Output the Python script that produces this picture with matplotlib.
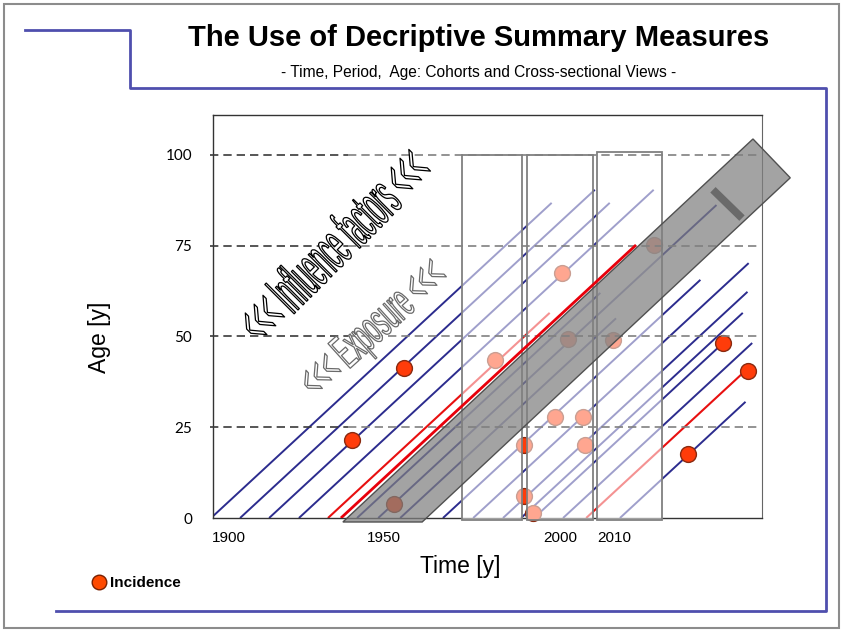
"""Lexis-type diagram: cohorts, periods and ages with incidence points"""
import numpy as np
import matplotlib
matplotlib.use('Agg')
import matplotlib.pyplot as plt
import matplotlib.colors as mcolors
from matplotlib.patches import Rectangle, Polygon
from matplotlib.lines import Line2D
from matplotlib.patheffects import AbstractPathEffect
from matplotlib.transforms import Affine2D

# cohort lines: birth year (age 0) and age where the line stops
blue_birth = [1900.0, 1907.4, 1914.8, 1922.4, 1937.2, 1942.6, 1948.2,
              1959.1, 1966.8, 1974.4, 1979.0, 1982.3, 1989.7, 2004.2]
blue_end = [86.8, 90.4, 86.8, 90.4, 62.0, 86.2, 55.0,
            65.6, 70.2, 62.3, 56.5, 48.2, 48.2, 32.0]
red_birth = [1929.8, 1995.6]
red_end = [56.5, 40.5]
exposed_birth = 1933.1
exposed_end = 75.2

# incidence cases
inc_year = [1935.9, 1949.2, 1946.6, 1972.4, 1989.4, 1991.0, 2002.4, 2012.9, 1987.7,
            1994.8, 1995.3, 1979.8, 1979.8, 1982.1, 2021.6, 2030.5, 2036.8]
inc_age = [21.5, 41.3, 3.9, 43.5, 67.5, 49.3, 49.0, 75.2, 27.8,
           27.8, 20.1, 20.1, 6.1, 1.4, 17.6, 48.2, 40.5]

# cross-sectional period windows
win_start = [1964.0, 1980.5, 1998.4]
win_end = [1979.3, 1997.3, 2014.9]
win_top = [100.0, 100.0, 100.8]

# exposure band (corners) and its marker bar
band_year = [1933.6, 2038.1, 2047.6, 1953.8]
band_age = [-1.1, 104.4, 93.7, -1.1]
bar_year = [2027.9, 2035.3]
bar_age = [90.4, 82.6]

grid_ages = [25, 50, 75, 100]
xtick_pos = [1904.6, 1944.1, 1988.9, 2002.7]
xtick_labels = ['1900', '1950', '2000', '2010']
ytick_pos = [0, 25, 50, 75, 100]

W, H = 844, 632
navy = '#2c2c8e'
dot_face = '#ff3c0a'
dot_edge = '#8a2a10'


class Stretched(AbstractPathEffect):
    """draw text outlined and stretched like word art"""
    def __init__(self, sx, sy, edge, lw, face='white'):
        super().__init__()
        self.sx, self.sy = sx, sy
        self.edge, self.lw = edge, lw
        self.face = mcolors.to_rgb(face)

    def draw_path(self, renderer, gc, tpath, affine, rgbFace=None):
        gc0 = renderer.new_gc()
        gc0.copy_properties(gc)
        gc0.set_foreground(self.edge)
        gc0.set_linewidth(self.lw)
        tr = Affine2D().scale(self.sx, self.sy) + affine
        renderer.draw_path(gc0, tpath, tr, self.face)
        gc0.restore()


def fx(px):
    return px / W


def fy(py):
    return 1 - py / H


fig = plt.figure(figsize=(W / 100, H / 100), dpi=100)
fig.patch.set_facecolor('white')
ax = fig.add_axes([fx(213), fy(518), 549 / W, 403 / H])
ax.set_xlim(1900.5, 2040.4)
ax.set_ylim(0, 111)

# cohort lines
for b, e in zip(blue_birth, blue_end):
    ax.plot([b, b + e], [0, e], color=navy, lw=1.4, zorder=2, solid_capstyle='butt')
for b, e in zip(red_birth, red_end):
    ax.plot([b, b + e], [0, e], color='#e81010', lw=1.5, zorder=2, solid_capstyle='butt')

# incidence
ax.scatter(inc_year, inc_age, s=130, c=dot_face, edgecolors=dot_edge,
           linewidths=1, zorder=3, clip_on=False)

# period windows (translucent white)
for s, e, t in zip(win_start, win_end, win_top):
    ax.add_patch(Rectangle((s, -0.6), e - s, t + 0.6, facecolor=(1, 1, 1, 0.55),
                           edgecolor='#808080', lw=1.3, zorder=4, clip_on=False))

# dashed age lines
for a in grid_ages:
    ax.plot([1899.7, 1935.0], [a, a], color='#3a3a3a', lw=1.2, ls=(0, (5, 3)),
            zorder=4.5, clip_on=False)
    ax.plot([1935.0, 2039.2], [a, a], color='#808080', lw=1.2, ls=(0, (5, 3)),
            zorder=4.5, clip_on=False)

# exposure band
ax.add_patch(Polygon(np.column_stack([band_year, band_age]), closed=True,
                     facecolor=(0.5, 0.5, 0.5, 0.72), edgecolor='#505050', lw=1,
                     zorder=5, clip_on=False))
ax.plot(bar_year, bar_age, color='#6a6a6a', lw=5.5, zorder=5.5,
        solid_capstyle='butt', clip_on=False)
ax.plot([exposed_birth, exposed_birth + exposed_end], [0, exposed_end],
        color='#e8000b', lw=2, zorder=6, solid_capstyle='butt')

# word art labels
ax.text(1913.0, 47.4, '<<< Influence factors <<<', rotation=45, rotation_mode='anchor',
        ha='left', va='baseline', fontsize=14, family='Liberation Sans', color='white',
        zorder=7, path_effects=[Stretched(1.1, 3.1, 'black', 0.9)])
ax.text(1926.8, 32.8, '<<< Exposure <<<', rotation=42, rotation_mode='anchor',
        ha='left', va='baseline', fontsize=12, family='Liberation Sans', color='white',
        zorder=7, path_effects=[Stretched(1.3, 2.9, '#6a6a6a', 0.9)])

# axes styling
for side in ['left', 'top', 'bottom']:
    ax.spines[side].set_color('#333333')
    ax.spines[side].set_linewidth(1.0)
ax.spines['right'].set_color('#666666')
ax.set_xticks(xtick_pos, xtick_labels)
ax.set_yticks(ytick_pos)
ax.tick_params(axis='both', length=0)
ax.tick_params(axis='x', pad=9, labelsize=11)
ax.tick_params(axis='y', pad=15, labelsize=11)
for lab in ax.get_xticklabels():
    lab.set_family('Liberation Sans')
for lab in ax.get_yticklabels():
    lab.set_family('Lato')
ax.set_xlabel('Time [y]', fontsize=16.5, family='Liberation Sans')
ax.xaxis.set_label_coords((460 - 213) / 549, -0.092)
ax.set_ylabel('Age [y]', fontsize=16.5, family='Liberation Sans')
ax.yaxis.set_label_coords(-0.185, (518 - 337) / 403)

# titles
fig.text(fx(479), fy(38), 'The Use of Decriptive Summary Measures', ha='center',
         va='center', fontsize=21, weight='bold', family='Liberation Sans')
fig.text(fx(479), fy(73), '- Time, Period,  Age: Cohorts and Cross-sectional Views -',
         ha='center', va='center', fontsize=11.2, family='Liberation Sans')

# frame decoration
fig.add_artist(Rectangle((fx(4), fy(628)), 835 / W, 624 / H, transform=fig.transFigure,
                         fill=False, edgecolor='#8c8c8c', lw=1.5))
frame_x = [25, 130, 130, 826, 826, 56]
frame_y = [30, 30, 88, 88, 611, 611]
fig.add_artist(Line2D([fx(v) for v in frame_x], [fy(v) for v in frame_y],
                      transform=fig.transFigure, color='#4f4fae', lw=2))

# legend
handle = Line2D([], [], ls='', marker='o', ms=10.5, mfc='#ff4a00', mec='#7a2000', mew=1)
fig.legend([handle], ['Incidence'], loc='center left', bbox_to_anchor=(fx(76), fy(583)),
           frameon=False, handletextpad=0.1, handlelength=1.2,
           prop={'family': 'Liberation Sans', 'weight': 'bold', 'size': 11})

fig.savefig('out.png', dpi=100)
